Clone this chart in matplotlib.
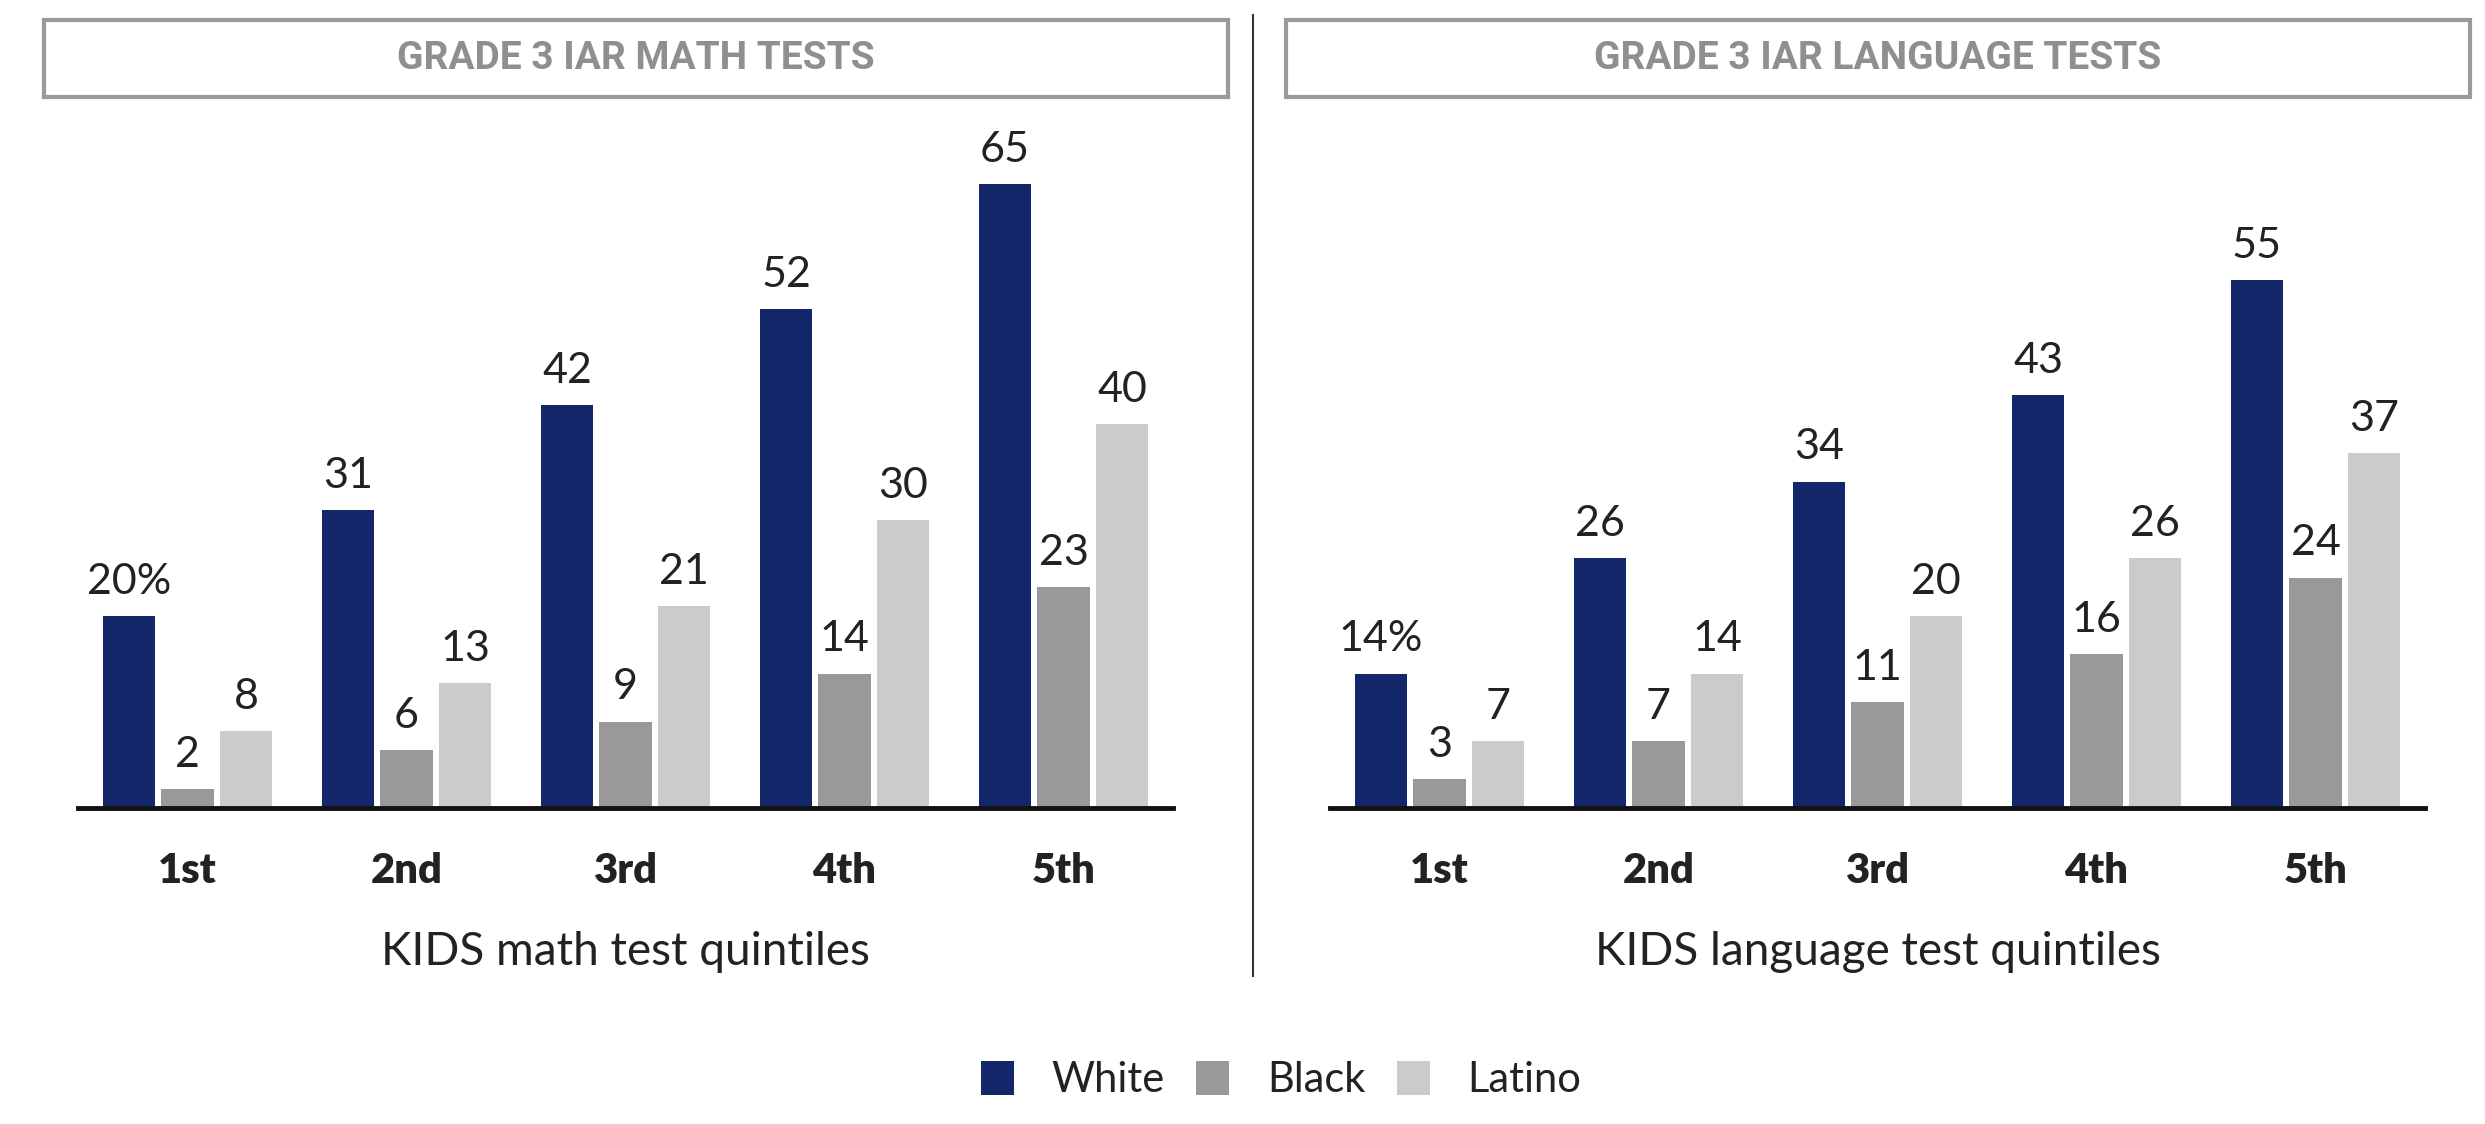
import numpy as np
import matplotlib.pyplot as plt
from matplotlib.patches import Rectangle, Patch
from matplotlib.lines import Line2D

plt.rcParams['font.family'] = ['Lato', 'DejaVu Sans']

quintiles = ["1st", "2nd", "3rd", "4th", "5th"]
groups = ["White", "Black", "Latino"]

math_white = [20, 31, 42, 52, 65]
math_black = [2, 6, 9, 14, 23]
math_latino = [8, 13, 21, 30, 40]

lang_white = [14, 26, 34, 43, 55]
lang_black = [3, 7, 11, 16, 24]
lang_latino = [7, 14, 20, 26, 37]

colors = ["#14266a", "#999999", "#cbcbcb"]

W, H = 2485, 1124
fig = plt.figure(figsize=(W / 100, H / 100), dpi=100)


def px_axes(left, top, right, bottom):
    return fig.add_axes([left / W, 1 - bottom / H, (right - left) / W, (bottom - top) / H])


def panel(left, right, title, box, series, xlabel):
    ax = px_axes(left, 808 - 70 * 9.6, right, 808)
    x = np.arange(len(quintiles))
    for k, vals in enumerate(series):
        bars = ax.bar(x + (k - 1) * 0.267, vals, width=0.238, color=colors[k], label=groups[k])
        labels = [f"{v}%" if (i == 0 and k == 0) else str(v) for i, v in enumerate(vals)]
        ax.bar_label(bars, labels=labels, padding=11, fontsize=31, color="#222222")
    ax.set_xlim(-0.5, 4.5)
    ax.set_ylim(0, 70)
    for s in ["top", "left", "right"]:
        ax.spines[s].set_visible(False)
    ax.spines["bottom"].set_linewidth(3.5)
    ax.spines["bottom"].set_color("#111111")
    ax.set_yticks([])
    ax.set_xticks(x, quintiles, fontsize=30, fontweight="heavy", color="#222222")
    ax.tick_params(axis="x", length=0, pad=32)
    ax.set_facecolor("none")
    fig.text((left + right) / 2 / W, 1 - 965 / H, xlabel, ha="center", va="baseline",
             fontsize=33, color="#222222")

    # boxed panel title
    bl, bt, br, bb = box
    fig.patches.append(Rectangle((bl / W, 1 - bb / H), (br - bl) / W, (bb - bt) / H,
                                 transform=fig.transFigure, fill=False,
                                 edgecolor="#9a9a9a", linewidth=3))
    fig.text((bl + br) / 2 / W, 1 - (bt + bb) / 2 / H, title, ha="center", va="center",
             fontsize=28, fontweight="bold", color="#8f8f8f",
             family=["Roboto", "DejaVu Sans"])
    return ax


ax1 = panel(78, 1173, "GRADE 3 IAR MATH TESTS", (44, 20, 1228, 97),
            [math_white, math_black, math_latino], "KIDS math test quintiles")
ax2 = panel(1330, 2425, "GRADE 3 IAR LANGUAGE TESTS", (1286, 20, 2470, 97),
            [lang_white, lang_black, lang_latino], "KIDS language test quintiles")

# divider between the two panels
fig.lines.append(Line2D([1253 / W, 1253 / W], [1 - 15 / H, 1 - 976 / H],
                        transform=fig.transFigure, color="#333333", linewidth=1.5))

handles = [Patch(facecolor=c) for c in colors]
fig.legend(handles, groups, loc="center", bbox_to_anchor=(1281 / W, 1 - 1080 / H),
           ncol=3, frameon=False, fontsize=30, handlelength=0.8, handleheight=0.9,
           handletextpad=0.9, columnspacing=0.75, labelcolor="#222222")

fig.savefig("out.png", dpi=100, facecolor="white")
